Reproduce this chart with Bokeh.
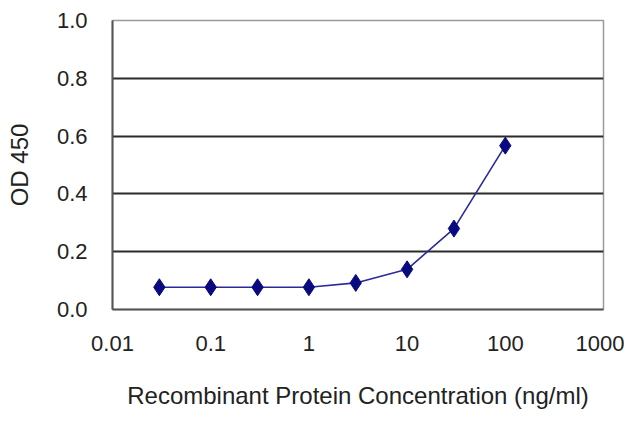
from bokeh.plotting import figure
from bokeh.models import Range1d, FixedTicker
from bokeh.embed import file_html
from bokeh.resources import INLINE

# Concentration (ng/ml) and OD 450 readings
conc = [0.03, 0.1, 0.3, 1, 3, 10, 30, 100]
od450 = [0.077, 0.077, 0.077, 0.077, 0.092, 0.139, 0.28, 0.567]

x_ticks = [0.01, 0.1, 1, 10, 100, 1000]
x_labels = ["0.01", "0.1", "1", "10", "100", "1000"]
y_ticks = [0.0, 0.2, 0.4, 0.6, 0.8, 1.0]

FONT = "Liberation Sans"

p = figure(width=624, height=411, x_axis_type="log",
           x_range=Range1d(0.01, 1000), y_range=Range1d(0, 1),
           output_backend="svg", toolbar_location=None,
           x_axis_label="Recombinant Protein Concentration (ng/ml)",
           y_axis_label="OD 450")
p.min_border_left = 112
p.min_border_right = 21
p.min_border_top = 20
p.min_border_bottom = 102
p.background_fill_color = "white"
p.outline_line_color = "#9a9a9a"
p.outline_line_width = 1.5

# grid
p.xgrid.grid_line_color = None
p.ygrid.ticker = FixedTicker(ticks=[0.2, 0.4, 0.6, 0.8])
p.ygrid.grid_line_color = "#2b2b2b"
p.ygrid.grid_line_width = 1.8

# x axis
p.xaxis.ticker = FixedTicker(ticks=x_ticks, minor_ticks=[])
p.xaxis.major_label_overrides = dict(zip(x_ticks, x_labels))
p.xaxis.major_tick_in = 0
p.xaxis.major_tick_out = 5
p.xaxis.minor_tick_line_color = None
p.xaxis.major_label_standoff = 21
p.xaxis.axis_label_standoff = 28

# y axis
p.yaxis.ticker = FixedTicker(ticks=y_ticks)
p.yaxis.major_label_overrides = {t: f"{t:.1f}" for t in y_ticks}
p.yaxis.minor_tick_line_color = None
p.yaxis.major_label_standoff = 19
p.yaxis.axis_label_standoff = 21

for ax in (p.xaxis, p.yaxis):
    ax.axis_line_color = "#555555"
    ax.axis_line_width = 2
    ax.major_tick_line_color = "#555555" if ax is p.xaxis else None
    ax.major_tick_line_width = 1.5
    ax.major_label_text_font = FONT
    ax.major_label_text_font_size = "22px"
    ax.major_label_text_color = "#222222"
    ax.axis_label_text_font = FONT
    ax.axis_label_text_font_style = "normal"
    ax.axis_label_text_color = "#222222"
p.xaxis.axis_label_text_font_size = "24px"
p.yaxis.axis_label_text_font_size = "24px"

# data
p.line(conc, od450, line_color="#2a2a9a", line_width=1.6)
p.scatter(conc, od450, marker="diamond", size=17,
          fill_color="#0a0a80", line_color="#0a0a80")

open("out.html", "w").write(file_html(p, INLINE))
